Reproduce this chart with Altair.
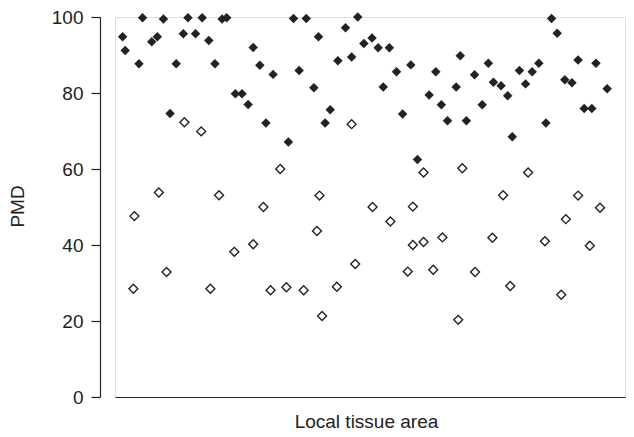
import altair as alt
import pandas as pd

# Filled diamonds (x position along local tissue area, arbitrary 0-100; PMD value)
filled_x = [1.5, 2.0, 4.7, 5.4, 7.2, 8.3, 9.5, 10.8, 12.0, 13.4, 14.3, 15.8, 17.1, 18.4,
            19.6, 21.0, 21.9, 23.6, 24.9, 26.1, 27.1, 28.4, 29.6, 31.0, 34.0, 35.0, 36.1,
            37.5, 39.0, 39.9, 41.2, 42.2, 43.7, 45.2, 46.4, 47.6, 48.8, 50.4, 51.6, 52.6,
            53.8, 55.2, 56.4, 58.0, 59.3, 61.6, 62.9, 64.0, 65.2, 66.9, 67.7, 68.9, 70.5,
            72.0, 73.2, 74.2, 75.7, 77.0, 77.9, 79.3, 80.5, 81.8, 83.1, 84.5, 85.6, 86.7,
            88.2, 89.6, 90.8, 92.0, 93.5, 94.3, 96.5]
filled_y = [94.8, 91.2, 87.7, 99.8, 93.5, 94.8, 99.5, 74.6, 87.7, 95.6, 99.8, 95.6, 99.8, 93.8,
            87.7, 99.5, 99.8, 79.8, 79.8, 77.0, 92.0, 87.3, 72.1, 84.9, 67.1, 99.6, 85.9,
            99.6, 81.4, 94.8, 72.1, 75.6, 88.5, 97.2, 89.5, 100.0, 93.0, 94.5, 91.9, 81.6,
            91.9, 85.6, 74.5, 87.4, 62.5, 79.5, 85.6, 76.9, 72.7, 81.6, 89.8, 72.7, 84.8,
            76.9, 87.8, 82.8, 81.9, 79.3, 68.5, 85.9, 82.4, 85.6, 87.8, 72.1, 99.6, 95.7,
            83.5, 82.7, 88.7, 75.9, 75.9, 87.8, 81.1]

# Open diamonds
open_x = [3.8, 3.6, 8.6, 10.1, 13.6, 16.9, 18.7, 20.4, 23.4, 27.1, 29.1, 30.5, 32.4, 33.6,
          37.0, 39.6, 40.1, 40.6, 43.5, 46.4, 47.1, 50.5, 54.0, 57.4, 58.4, 58.4, 60.5,
          60.5, 62.4, 64.2, 67.3, 68.1, 70.6, 74.0, 76.1, 77.5, 81.0, 84.3, 87.5, 88.4,
          90.8, 93.1, 95.1]
open_y = [47.6, 28.5, 53.8, 32.9, 72.3, 69.9, 28.5, 53.1, 38.2, 40.2, 50.0, 28.1, 60.0, 28.9,
          28.1, 43.7, 53.0, 21.3, 29.0, 71.8, 35.0, 50.0, 46.2, 33.0, 50.1, 40.0, 59.1,
          40.8, 33.5, 42.0, 20.3, 60.2, 32.9, 41.9, 53.1, 29.2, 59.1, 41.0, 26.9, 46.8,
          53.0, 39.8, 49.8]

y_ticks = [0, 20, 40, 60, 80, 100]

FONT = "Liberation Sans"
INK = "#222222"

df_filled = pd.DataFrame({"x": filled_x, "PMD": filled_y})
df_open = pd.DataFrame({"x": open_x, "PMD": open_y})

x_enc = alt.X(
    "x:Q",
    scale=alt.Scale(domain=[0, 100], nice=False, zero=False),
    axis=alt.Axis(
        title="Local tissue area", ticks=False, labels=False, grid=False,
        domainColor=INK, domainWidth=1.2,
        titleFont=FONT, titleFontSize=19, titleFontWeight="normal", titleColor=INK,
        titleX=251, titleY=30, titleBaseline="alphabetic",
    ),
)
y_enc = alt.Y(
    "PMD:Q",
    scale=alt.Scale(domain=[0, 100], nice=False),
    axis=alt.Axis(
        title="PMD", values=y_ticks, grid=False, offset=15,
        tickSize=9, tickColor=INK, tickWidth=1.2, domainColor=INK, domainWidth=1.2,
        labelFont=FONT, labelFontSize=19, labelColor=INK, labelPadding=8,
        titleFont=FONT, titleFontSize=19, titleFontWeight="normal", titleColor=INK,
        titleX=-77, titleY=189, titleBaseline="alphabetic",
    ),
)

filled = alt.Chart(df_filled).mark_point(
    shape="diamond", filled=True, size=90, color=INK, opacity=1
).encode(x=x_enc, y=y_enc)

opened = alt.Chart(df_open).mark_point(
    shape="diamond", filled=False, size=80, color=INK, strokeWidth=1.4, opacity=1
).encode(x=x_enc, y=y_enc)

chart = alt.layer(opened, filled).properties(
    width=510,
    height=380,
    autosize=alt.AutoSizeParams(type="none"),
    padding={"left": 107, "top": 9, "right": 1, "bottom": 35},
).configure_view(stroke=None).configure(background="white")

chart.save("out.html", embed_options={"renderer": "svg", "actions": False})
